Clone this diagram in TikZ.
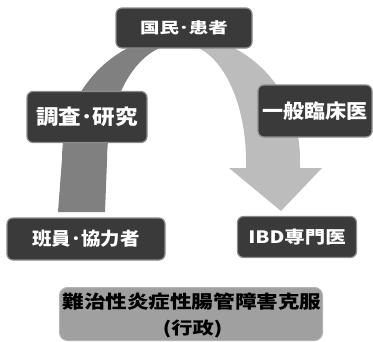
\documentclass[tikz,border=0pt]{standalone}
\usepackage{fontspec}
\usepackage{graphicx}
\setmainfont{Noto Sans CJK JP}
\definecolor{boxfill}{HTML}{3A3A3A}
\definecolor{boxline}{HTML}{8C8C8C}
\definecolor{bandL}{HTML}{808080}
\definecolor{bandR}{HTML}{BCBCBC}
\definecolor{govfill}{HTML}{A0A0A0}
\newcommand\sxtext[3]{{\fontsize{#1}{#1}\selectfont\scalebox{#2}[1]{#3}}}
\tikzset{
  darkbox/.style={draw=boxline, line width=1.2pt, fill=boxfill, rounded corners=6pt,
    text=white, font=\bfseries, inner sep=0pt, align=center},
  govbox/.style={draw=govfill!80!white, line width=1pt, fill=govfill, rounded corners=8pt,
    inner sep=0pt},
  govtext/.style={text=black, font=\bfseries, inner sep=0pt},
}
\begin{document}
\begin{tikzpicture}[x=1pt,y=-1pt]
\useasboundingbox (0,0) rectangle (373,341);
% right band with arrowhead
\fill[bandR] plot[domain=90:0, samples=50, variable=\t] ({181+119*cos(\t)},{159-124*sin(\t)})
  -- (300,169) -- (246,169)
  -- plot[domain=0:90, samples=50, variable=\t] ({182+64*cos(\t)},{161-117*sin(\t)}) -- cycle;
\coordinate (hl) at (229,168);
\coordinate (hr) at (322,168);
\coordinate (tip) at (281,211);
\fill[bandR] (hl) -- (hr) -- (tip) -- cycle;
% left band
\fill[bandL] (58,212) -- (62,159)
  -- plot[domain=180:90, samples=50, variable=\t] ({181+119*cos(\t)},{159-124*sin(\t)})
  -- plot[domain=90:180, samples=50, variable=\t] ({178+71*cos(\t)},{161-117*sin(\t)})
  -- (105,212) -- cycle;
% boxes
\node[darkbox, minimum width=136pt, minimum height=40pt] (pub) at (184,28) {\sxtext{15}{1.3}{国民･患者}};
\node[darkbox, minimum width=120pt, minimum height=51pt] (res) at (87,117) {\sxtext{20.5}{1.1}{調査･研究}};
\node[darkbox, minimum width=114pt, minimum height=52pt] (gen) at (315,111) {\sxtext{19.5}{1.08}{一般臨床医}};
\node[darkbox, minimum width=158pt, minimum height=42pt] (mem) at (86,239) {\sxtext{18}{1.08}{班員･協力者}};
\node[darkbox, minimum width=119pt, minimum height=41pt] (ibd) at (297,237) {\sxtext{17}{1.2}{IBD専門医}};
\node[govbox, minimum width=263pt, minimum height=53pt] (gov) at (191,314) {};
\node[govtext] (gov1) at (192,301.5) {\sxtext{18}{1.2}{難治性炎症性腸管障害克服}};
\node[govtext] (gov2) at (192.5,329) {\sxtext{17}{1.25}{(行政)}};
\end{tikzpicture}
\end{document}
